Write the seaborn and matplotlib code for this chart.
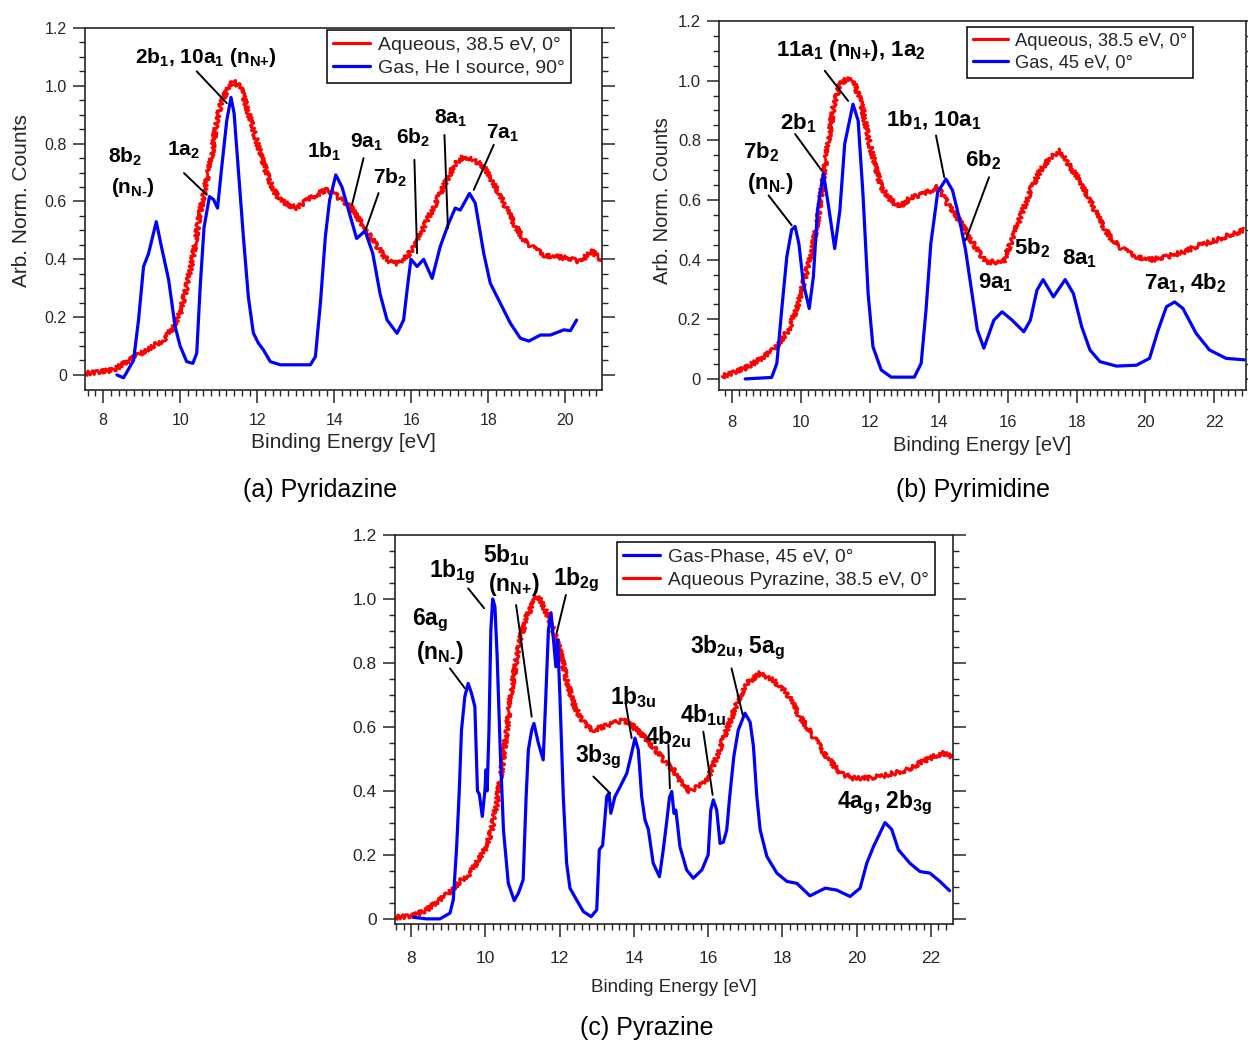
import numpy as np
import pandas as pd
import matplotlib
matplotlib.use("Agg")
import matplotlib.pyplot as plt
import seaborn as sns
from matplotlib.ticker import MultipleLocator, FixedLocator, FuncFormatter
from matplotlib.lines import Line2D

# ---------------- data ----------------
# (a) Pyridazine
a_gas_E = [8.36, 8.53, 8.79, 8.92, 9.05, 9.18, 9.38, 9.52, 9.70, 9.87, 10.0, 10.17, 10.33, 10.43, 10.52, 10.62, 10.76, 10.87, 10.97, 11.08,
           11.21, 11.32, 11.40, 11.51, 11.64, 11.77, 11.90, 12.03, 12.16, 12.34, 12.60, 13.0, 13.38, 13.51, 13.64, 13.77, 13.88, 14.04, 14.2, 14.37,
           14.58, 14.8, 15.0, 15.19, 15.37, 15.63, 15.80, 15.9, 15.99, 16.15, 16.32, 16.54, 16.75, 16.97, 17.14, 17.27, 17.51, 17.66, 17.88, 18.05,
           18.31, 18.57, 18.83, 19.05, 19.35, 19.61, 19.96, 20.13, 20.29]
a_gas_I = [0.0, -0.01, 0.05, 0.19, 0.375, 0.42, 0.53, 0.44, 0.33, 0.167, 0.10, 0.046, 0.04, 0.075, 0.305, 0.51, 0.617, 0.606, 0.577, 0.72,
           0.88, 0.96, 0.905, 0.71, 0.48, 0.27, 0.145, 0.11, 0.087, 0.046, 0.035, 0.035, 0.035, 0.063, 0.248, 0.48, 0.605, 0.692, 0.65, 0.57,
           0.472, 0.498, 0.42, 0.28, 0.19, 0.144, 0.19, 0.305, 0.40, 0.375, 0.40, 0.334, 0.444, 0.525, 0.577, 0.57, 0.628, 0.594, 0.42, 0.317,
           0.248, 0.179, 0.127, 0.117, 0.138, 0.138, 0.156, 0.153, 0.19]
a_aq_E = [7.53, 8.27, 8.70, 9.13, 9.57, 9.83, 10.0, 10.17, 10.35, 10.48, 10.65, 10.82, 10.91, 11.04, 11.21, 11.38, 11.56, 11.73, 11.90, 12.08,
          12.25, 12.42, 12.6, 12.81, 13.03, 13.25, 13.46, 13.77, 13.98, 14.24, 14.42, 14.76, 15.11, 15.37, 15.63, 15.89, 16.15, 16.41, 16.67, 16.92,
          17.14, 17.36, 17.62, 17.88, 18.14, 18.40, 18.66, 18.92, 19.18, 19.44, 19.70, 20.04, 20.39, 20.69, 20.86, 20.95]
a_aq_I = [0.005, 0.017, 0.052, 0.087, 0.121, 0.167, 0.213, 0.305, 0.42, 0.536, 0.65, 0.755, 0.848, 0.93, 0.986, 1.015, 0.997, 0.928, 0.848, 0.767,
          0.697, 0.64, 0.605, 0.588, 0.578, 0.60, 0.617, 0.64, 0.628, 0.60, 0.582, 0.513, 0.444, 0.398, 0.386, 0.41, 0.461, 0.536, 0.605, 0.675,
          0.732, 0.755, 0.744, 0.72, 0.663, 0.594, 0.525, 0.467, 0.438, 0.415, 0.409, 0.404, 0.392, 0.43, 0.404, 0.40]

# (b) Pyrimidine
b_gas_E = [8.38, 9.15, 9.30, 9.44, 9.59, 9.73, 9.83, 9.94, 10.07, 10.24, 10.36, 10.48, 10.65, 10.79, 10.98, 11.13, 11.27, 11.51, 11.66, 11.80,
           11.95, 12.09, 12.33, 12.62, 13.29, 13.49, 13.63, 13.77, 13.97, 14.21, 14.40, 14.59, 14.78, 14.98, 15.12, 15.31, 15.60, 15.84, 16.13, 16.47,
           16.66, 16.85, 17.03, 17.33, 17.67, 17.91, 18.15, 18.39, 18.68, 19.16, 19.74, 20.12, 20.37, 20.61, 20.85, 21.09, 21.47, 21.86, 22.34, 22.87]
b_gas_I = [0.0, 0.005, 0.052, 0.23, 0.41, 0.50, 0.511, 0.453, 0.32, 0.236, 0.342, 0.565, 0.69, 0.587, 0.437, 0.565, 0.788, 0.921, 0.866, 0.62,
           0.286, 0.108, 0.03, 0.006, 0.006, 0.052, 0.23, 0.453, 0.626, 0.67, 0.632, 0.542, 0.431, 0.275, 0.164, 0.103, 0.197, 0.225, 0.197, 0.158,
           0.197, 0.297, 0.333, 0.275, 0.333, 0.286, 0.175, 0.097, 0.058, 0.043, 0.046, 0.069, 0.164, 0.242, 0.258, 0.236, 0.153, 0.097, 0.069, 0.064]
b_aq_E = [7.71, 8.38, 8.87, 9.25, 9.64, 9.93, 10.12, 10.31, 10.50, 10.65, 10.79, 10.94, 11.13, 11.32, 11.51, 11.66, 11.80, 11.95, 12.14, 12.33,
          12.62, 12.86, 13.20, 13.58, 13.97, 14.26, 14.54, 14.83, 15.12, 15.36, 15.6, 15.88, 16.08, 16.37, 16.66, 16.95, 17.24, 17.53, 17.82, 18.10,
          18.39, 18.68, 18.97, 19.26, 19.64, 20.12, 20.61, 21.09, 21.57, 22.05, 22.53, 22.87]
b_aq_I = [0.008, 0.036, 0.069, 0.103, 0.164, 0.253, 0.342, 0.42, 0.542, 0.676, 0.788, 0.91, 0.988, 1.005, 1.0, 0.955, 0.9, 0.81, 0.721, 0.643,
          0.598, 0.576, 0.609, 0.62, 0.643, 0.587, 0.542, 0.487, 0.431, 0.392, 0.392, 0.392, 0.453, 0.542, 0.632, 0.699, 0.743, 0.765, 0.71, 0.665,
          0.598, 0.531, 0.476, 0.442, 0.414, 0.398, 0.409, 0.425, 0.448, 0.465, 0.487, 0.498]

# (c) Pyrazine
c_gas_E = [8.06, 8.42, 8.78, 9.05, 9.14, 9.23, 9.30, 9.36, 9.45, 9.54, 9.63, 9.72, 9.79, 9.84, 9.92, 9.99, 10.02, 10.05, 10.10, 10.15,
           10.20, 10.26, 10.32, 10.40, 10.49, 10.62, 10.78, 10.89, 11.02, 11.10, 11.16, 11.25, 11.31, 11.43, 11.56, 11.63, 11.70, 11.77, 11.83, 11.90,
           11.95, 12.01, 12.10, 12.19, 12.28, 12.46, 12.64, 12.85, 13.0, 13.07, 13.16, 13.27, 13.33, 13.38, 13.49, 13.63, 13.81, 13.94, 14.03, 14.12,
           14.21, 14.30, 14.39, 14.52, 14.69, 14.79, 14.88, 14.96, 15.02, 15.08, 15.13, 15.18, 15.24, 15.42, 15.60, 15.83, 16.0, 16.07, 16.14, 16.23,
           16.32, 16.41, 16.50, 16.58, 16.69, 16.81, 16.99, 17.13, 17.22, 17.31, 17.40, 17.58, 17.85, 18.12, 18.39, 18.74, 19.15, 19.46, 19.82, 20.09,
           20.27, 20.45, 20.76, 20.94, 21.12, 21.43, 21.70, 21.97, 22.24, 22.50]
c_gas_I = [0.005, 0.0, 0.0, 0.018, 0.06, 0.226, 0.40, 0.59, 0.695, 0.736, 0.705, 0.663, 0.40, 0.39, 0.32, 0.40, 0.466, 0.40, 0.59, 0.903,
           1.0, 0.976, 0.82, 0.538, 0.278, 0.111, 0.057, 0.08, 0.122, 0.382, 0.528, 0.59, 0.611, 0.549, 0.497, 0.695, 0.903, 0.957, 0.882, 0.788,
           0.872, 0.695, 0.382, 0.174, 0.096, 0.059, 0.023, 0.007, 0.028, 0.216, 0.23, 0.382, 0.393, 0.33, 0.382, 0.413, 0.455, 0.518, 0.565, 0.528,
           0.382, 0.309, 0.28, 0.174, 0.132, 0.215, 0.30, 0.38, 0.398, 0.33, 0.34, 0.29, 0.226, 0.153, 0.127, 0.153, 0.2, 0.34, 0.372, 0.34,
           0.236, 0.24, 0.278, 0.382, 0.507, 0.59, 0.643, 0.615, 0.538, 0.382, 0.278, 0.195, 0.143, 0.117, 0.111, 0.072, 0.096, 0.09, 0.07, 0.096,
           0.174, 0.226, 0.301, 0.28, 0.216, 0.174, 0.148, 0.143, 0.117, 0.088]
c_aq_E = [7.57, 8.06, 8.42, 8.78, 9.05, 9.32, 9.59, 9.81, 10.04, 10.17, 10.31, 10.44, 10.58, 10.71, 10.85, 10.98, 11.12, 11.25, 11.38, 11.52,
          11.65, 11.83, 12.01, 12.19, 12.37, 12.55, 12.73, 12.91, 13.18, 13.45, 13.72, 13.99, 14.26, 14.52, 14.79, 15.06, 15.24, 15.51, 15.69, 15.96,
          16.23, 16.50, 16.77, 17.04, 17.40, 17.75, 18.12, 18.47, 18.83, 19.19, 19.55, 19.91, 20.27, 20.63, 20.99, 21.35, 21.70, 22.06, 22.33, 22.56]
c_aq_I = [0.005, 0.01, 0.028, 0.059, 0.085, 0.117, 0.143, 0.184, 0.226, 0.278, 0.362, 0.466, 0.59, 0.716, 0.82, 0.893, 0.945, 0.976, 1.007, 0.992,
          0.955, 0.903, 0.84, 0.747, 0.674, 0.632, 0.601, 0.59, 0.601, 0.611, 0.622, 0.601, 0.57, 0.538, 0.497, 0.466, 0.434, 0.398, 0.413, 0.429,
          0.507, 0.59, 0.674, 0.736, 0.768, 0.747, 0.705, 0.632, 0.57, 0.507, 0.455, 0.44, 0.44, 0.445, 0.455, 0.466, 0.487, 0.507, 0.518, 0.507]

legend_a = ["Aqueous, 38.5 eV, 0°", "Gas, He I source, 90°"]
legend_b = ["Aqueous, 38.5 eV, 0°", "Gas, 45 eV, 0°"]
legend_c = ["Gas-Phase, 45 eV, 0°", "Aqueous Pyrazine, 38.5 eV, 0°"]
captions = ["(a) Pyridazine", "(b) Pyrimidine", "(c) Pyrazine"]
y_ticks = [0.0, 0.2, 0.4, 0.6, 0.8, 1.0, 1.2]

# ---------------- style ----------------
sns.set_theme(style="ticks")
plt.rcParams["font.family"] = ["Liberation Sans", "DejaVu Sans"]
plt.rcParams.update({
    "mathtext.fontset": "custom",
    "mathtext.rm": "Liberation Sans:bold",
    "mathtext.it": "Liberation Sans:bold",
    "mathtext.bf": "Liberation Sans:bold",
    "mathtext.sf": "Liberation Sans:bold",
    "mathtext.default": "rm",
})
DARK = "#262626"
RED = "#ff0000"
BLUE = "#0000ff"

fig = plt.figure(figsize=(12.48, 10.41), dpi=100)


def draw_panel(ax, aq_E, aq_I, gas_E, gas_I, xlim, ylim, tick_fs, label_fs, xpad, xlabelpad, ylabel_pos):
    aq = pd.DataFrame({"E": aq_E, "I": aq_I})
    gas = pd.DataFrame({"E": gas_E, "I": gas_I})
    sns.lineplot(data=aq, x="E", y="I", color=RED, lw=2.0, estimator=None, sort=False, ax=ax)
    sns.lineplot(data=gas, x="E", y="I", color=BLUE, lw=2.3, estimator=None, sort=False, ax=ax)
    ax.lines[0].set_sketch_params(scale=2.3, length=3.5, randomness=3.0)
    ax.set_xlim(*xlim)
    ax.set_ylim(*ylim)
    ax.xaxis.set_major_locator(MultipleLocator(2))
    ax.xaxis.set_minor_locator(MultipleLocator(0.2))
    ax.yaxis.set_major_locator(FixedLocator(y_ticks))
    ax.yaxis.set_minor_locator(FixedLocator(list(np.round(np.arange(0, 1.2001, 0.05), 3))))
    ax.yaxis.set_major_formatter(FuncFormatter(lambda v, p: "0" if abs(v) < 1e-9 else f"{v:.1f}"))
    ax.tick_params(axis="both", which="major", direction="out", length=9, width=1.1,
                   color=DARK, labelsize=tick_fs, labelcolor=DARK, pad=4)
    ax.tick_params(axis="x", which="major", pad=xpad)
    ax.tick_params(axis="both", which="minor", direction="out", length=4.3, width=1.0, color=DARK)
    ax.tick_params(axis="y", which="both", left=True, right=True)
    ax.tick_params(axis="x", which="both", top=False, bottom=True)
    for s in ax.spines.values():
        s.set_color(DARK)
        s.set_linewidth(1.2)
    ax.set_xlabel("Binding Energy [eV]", fontsize=label_fs, color=DARK, labelpad=xlabelpad)
    if ylabel_pos is not None:
        ax.set_ylabel("Arb. Norm. Counts", fontsize=label_fs, color=DARK)
        ax.yaxis.set_label_coords(*ylabel_pos)
    else:
        ax.set_ylabel("")


def annotate(ax, items, fs):
    for txt, x, y, line in items:
        ax.text(x, y, txt, ha="center", va="center", fontsize=fs, fontweight="bold", color="black")
        if line is not None:
            ax.annotate("", xy=line[1], xytext=line[0],
                        arrowprops=dict(arrowstyle="-", color="black", lw=1.4, shrinkA=0, shrinkB=0))


def legend(ax, labels, colors, anchor, fs):
    handles = [Line2D([], [], color=c, lw=2.3) for c in colors]
    lg = ax.legend(handles, labels, loc="upper left", bbox_to_anchor=anchor, borderaxespad=0,
                   fontsize=fs, frameon=True, fancybox=False, framealpha=1, edgecolor="black",
                   handlelength=1.9, handletextpad=0.4, labelspacing=0.28, borderpad=0.32)
    lg.get_frame().set_linewidth(1.1)
    for t in lg.get_texts():
        t.set_color(DARK)


NP = r"(n$_{\text{N+}}$)"
NM = r"(n$_{\text{N-}}$)"

# ---------------- panel (a) ----------------
ax_a = fig.add_axes([0.0681, 0.6254, 0.4143, 0.3477])
draw_panel(ax_a, a_aq_E, a_aq_I, a_gas_E, a_gas_I, (7.53, 20.95), (-0.052, 1.2), 11.5, 15, 7.5, 4,
           (-0.104, 0.522))
annotate(ax_a, [
    (r"2b$_1$, 10a$_1$ " + NP, 10.68, 1.097, ((10.43, 1.05), (11.21, 0.94))),
    (r"8b$_2$", 8.57, 0.754, None),
    (NM, 8.78, 0.65, None),
    (r"1a$_2$", 10.08, 0.778, ((10.10, 0.698), (10.69, 0.623))),
    (r"1b$_1$", 13.74, 0.772, None),
    (r"9a$_1$", 14.83, 0.803, ((14.76, 0.75), (14.46, 0.588))),
    (r"7b$_2$", 15.45, 0.68, ((15.15, 0.629), (14.81, 0.50))),
    (r"6b$_2$", 16.05, 0.82, ((16.08, 0.744), (16.15, 0.421))),
    (r"8a$_1$", 17.01, 0.889, ((16.86, 0.83), (16.95, 0.508))),
    (r"7a$_1$", 18.36, 0.837, ((18.14, 0.796), (17.62, 0.64))),
], 15)
legend(ax_a, legend_a, [RED, BLUE], (0.468, 0.995), 14)

# ---------------- panel (b) ----------------
ax_b = fig.add_axes([0.5761, 0.6254, 0.4223, 0.3545])
draw_panel(ax_b, b_aq_E, b_aq_I, b_gas_E, b_gas_I, (7.62, 22.92), (-0.037, 1.2), 12, 14.5, 9, 4,
           (-0.089, 0.512))
annotate(ax_b, [
    (r"11a$_1$ " + NP[:-1] + "), 1a$_2$", 11.46, 1.10, ((10.69, 1.033), (11.37, 0.932))),
    (r"2b$_1$", 9.93, 0.856, ((9.83, 0.821), (10.60, 0.699))),
    (r"7b$_2$", 8.84, 0.759, None),
    (NM, 9.10, 0.655, ((9.06, 0.615), (9.73, 0.515))),
    (r"1b$_1$, 10a$_1$", 13.86, 0.866, ((13.92, 0.816), (14.16, 0.676))),
    (r"6b$_2$", 15.30, 0.732, ((15.46, 0.676), (14.78, 0.465))),
    (r"9a$_1$", 15.65, 0.321, None),
    (r"5b$_2$", 16.72, 0.438, None),
    (r"8a$_1$", 18.10, 0.404, None),
    (r"7a$_1$, 4b$_2$", 21.16, 0.321, None),
], 16)
legend(ax_b, legend_b, [RED, BLUE], (0.4706, 0.984), 13.2)

# ---------------- panel (c) ----------------
ax_c = fig.add_axes([0.3165, 0.1124, 0.4471, 0.3737])
draw_panel(ax_c, c_aq_E, c_aq_I, c_gas_E, c_gas_I, (7.57, 22.59), (-0.016, 1.2), 12.5, 13.5, 10.5, 9, None)
annotate(ax_c, [
    (r"6a$_g$", 8.51, 0.934, None),
    (NM, 8.78, 0.834, ((9.05, 0.783), (9.45, 0.721))),
    (r"1b$_{1g}$", 9.10, 1.084, ((9.54, 1.033), (9.97, 0.971))),
    (r"5b$_{1u}$", 10.58, 1.1375, None),
    (NP, 10.77, 1.044, ((10.83, 0.981), (11.25, 0.632))),
    (r"1b$_{2g}$", 12.44, 1.059, ((12.17, 1.0125), (11.92, 0.893))),
    (r"3b$_{3g}$", 13.04, 0.506, ((12.91, 0.445), (13.36, 0.393))),
    (r"1b$_{3u}$", 13.98, 0.694, ((13.78, 0.674), (13.94, 0.565))),
    (r"4b$_{2u}$", 14.92, 0.569, ((14.93, 0.544), (14.97, 0.408))),
    (r"4b$_{1u}$", 15.86, 0.6375, ((15.87, 0.585), (16.12, 0.3875))),
    (r"3b$_{2u}$, 5a$_g$", 16.78, 0.847, ((16.63, 0.783), (16.93, 0.6375))),
    (r"4a$_g$, 2b$_{3g}$", 20.74, 0.3625, None),
], 16.5)
legend(ax_c, legend_c, [BLUE, RED], (0.398, 0.982), 13.9)

# ---------------- captions ----------------
fig.text(320 / 1248, 1 - 490 / 1041, captions[0], ha="center", va="center", fontsize=18, color="black")
fig.text(973 / 1248, 1 - 490 / 1041, captions[1], ha="center", va="center", fontsize=18, color="black")
fig.text(647 / 1248, 1 - 1028 / 1041, captions[2], ha="center", va="center", fontsize=18, color="black")

fig.savefig("out.png", dpi=100)
